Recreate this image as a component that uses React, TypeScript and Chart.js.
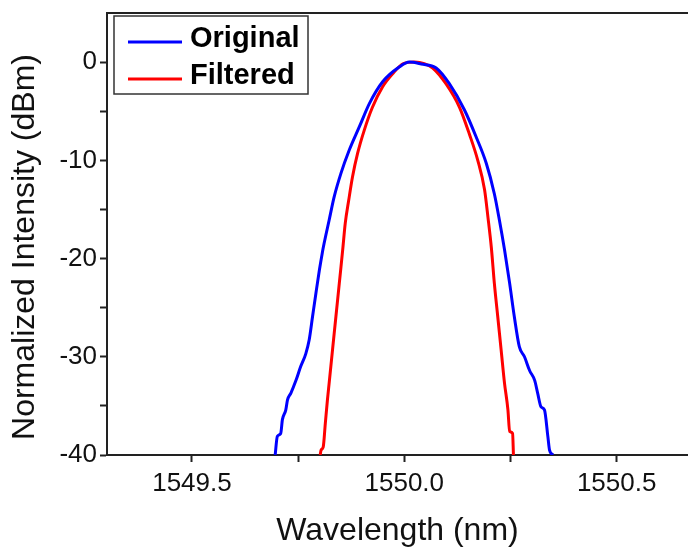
import React, { useEffect, useRef } from 'react';
import { Chart, registerables } from 'chart.js';

Chart.register(...registerables);

const seriesLabels = ['Original', 'Filtered'];
const seriesColors = ['#0000FF', '#FF0000'];

const originalX = [1549.696, 1549.701, 1549.709, 1549.713, 1549.721, 1549.725, 1549.733, 1549.745, 1549.756, 1549.768, 1549.776, 1549.784, 1549.792, 1549.800, 1549.807, 1549.811, 1549.823, 1549.835, 1549.851, 1549.870, 1549.894, 1549.918, 1549.949, 1549.988, 1550.012, 1550.040, 1550.075, 1550.106, 1550.142, 1550.169, 1550.193, 1550.212, 1550.224, 1550.236, 1550.248, 1550.259, 1550.271, 1550.283, 1550.295, 1550.307, 1550.314, 1550.322, 1550.330, 1550.338, 1550.342, 1550.350];
const originalY = [-40, -38.1, -37.8, -36.4, -35.4, -34.4, -33.7, -32.4, -31.0, -29.7, -28.3, -25.9, -23.5, -21.2, -19.4, -18.5, -16.1, -13.7, -11.3, -9.0, -6.6, -4.2, -2.0, -0.5, 0, -0.2, -0.6, -2.2, -4.9, -7.6, -10.3, -13.4, -16.1, -19.1, -22.5, -25.9, -29.0, -30.0, -31.4, -32.4, -33.7, -35.1, -35.4, -38.1, -39.5, -40];

const filteredX = [1549.802, 1549.804, 1549.809, 1549.814, 1549.819, 1549.823, 1549.831, 1549.839, 1549.847, 1549.855, 1549.861, 1549.869, 1549.878, 1549.890, 1549.906, 1549.925, 1549.949, 1549.972, 1549.998, 1550.024, 1550.047, 1550.067, 1550.098, 1550.130, 1550.153, 1550.173, 1550.189, 1550.197, 1550.205, 1550.212, 1550.220, 1550.228, 1550.236, 1550.244, 1550.248, 1550.255, 1550.257];
const filteredY = [-40, -39.5, -39.2, -36.8, -34.4, -32.7, -29.3, -25.9, -22.5, -19.1, -16.4, -14.1, -11.7, -9.3, -6.9, -4.6, -2.5, -1.2, -0.15, 0, -0.15, -0.6, -2.2, -4.6, -7.3, -10.0, -13.0, -15.8, -18.9, -22.5, -25.9, -29.3, -32.7, -35.4, -37.6, -37.8, -40];

const xTickValues = [1549.5, 1549.75, 1550.0, 1550.25, 1550.5];
const xTickLabels = ['1549.5', '', '1550.0', '', '1550.5'];
const yTickValues = [-40, -35, -30, -25, -20, -15, -10, -5, 0];
const yTickLabels = ['-40', '', '-30', '', '-20', '', '-10', '', '0'];

const xTitle = 'Wavelength (nm)';
const yTitle = 'Normalized Intensity (dBm)';

const FONT = "'Liberation Sans', Arial, sans-serif";
const AXIS = '#222222';

const decorPlugin = {
  id: 'decor',
  afterDraw(chart: any) {
    const { ctx, chartArea } = chart;
    ctx.save();
    // top frame line
    ctx.strokeStyle = AXIS;
    ctx.lineWidth = 2;
    ctx.beginPath();
    ctx.moveTo(chartArea.left - 1, chartArea.top);
    ctx.lineTo(chartArea.right, chartArea.top);
    ctx.stroke();

    // y title
    ctx.save();
    ctx.translate(25, 247);
    ctx.rotate(-Math.PI / 2);
    ctx.font = `32px ${FONT}`;
    ctx.fillStyle = '#111';
    ctx.textAlign = 'center';
    ctx.textBaseline = 'middle';
    ctx.fillText(yTitle, 0, 0);
    ctx.restore();

    // legend
    const bx = chartArea.left + 7;
    const by = chartArea.top + 3;
    const bw = 194;
    const bh = 78;
    ctx.fillStyle = '#fff';
    ctx.fillRect(bx, by, bw, bh);
    ctx.strokeStyle = '#333';
    ctx.lineWidth = 1.5;
    ctx.strokeRect(bx, by, bw, bh);
    const rows = [26, 63];
    chart.data.datasets.forEach((ds: any, i: number) => {
      const y = by + rows[i];
      ctx.strokeStyle = ds.borderColor;
      ctx.lineWidth = 3;
      ctx.beginPath();
      ctx.moveTo(bx + 14, y);
      ctx.lineTo(bx + 68, y);
      ctx.stroke();
      ctx.fillStyle = '#000';
      ctx.font = `bold 29px ${FONT}`;
      ctx.textAlign = 'left';
      ctx.textBaseline = 'middle';
      ctx.fillText(ds.label, bx + 76, y - 3);
    });
    ctx.restore();
  },
};

export default function App() {
  const ref = useRef<HTMLCanvasElement | null>(null);

  useEffect(() => {
    if (!ref.current) return;
    const mk = (xs: number[], ys: number[]) => xs.map((x, i) => ({ x, y: ys[i] }));
    const chart = new Chart(ref.current, {
      type: 'line',
      data: {
        datasets: [
          {
            label: seriesLabels[0],
            data: mk(originalX, originalY),
            borderColor: seriesColors[0],
            backgroundColor: seriesColors[0],
            borderWidth: 3,
            pointRadius: 0,
            cubicInterpolationMode: 'monotone',
            fill: false,
          },
          {
            label: seriesLabels[1],
            data: mk(filteredX, filteredY),
            borderColor: seriesColors[1],
            backgroundColor: seriesColors[1],
            borderWidth: 3,
            pointRadius: 0,
            cubicInterpolationMode: 'monotone',
            fill: false,
          },
        ],
      },
      options: {
        animation: false,
        responsive: false,
        devicePixelRatio: 1,
        layout: { padding: { top: 13, left: 0, right: 0, bottom: 0 } },
        plugins: {
          legend: { display: false },
          tooltip: { enabled: false },
        },
        scales: {
          x: {
            type: 'linear',
            min: 1549.3,
            max: 1550.668,
            afterBuildTicks: (scale: any) => {
              scale.ticks = xTickValues.map((v) => ({ value: v }));
            },
            afterFit: (scale: any) => {
              scale.height = 92;
              scale.paddingLeft = 0;
              scale.paddingRight = 0;
              scale.paddingTop = 0;
              scale.paddingBottom = 0;
            },
            ticks: {
              autoSkip: false,
              maxRotation: 0,
              padding: 6,
              color: '#111',
              font: { family: FONT, size: 26 },
              callback: (value: any) => {
                const idx = xTickValues.findIndex((v) => Math.abs(v - Number(value)) < 1e-6);
                return idx >= 0 ? xTickLabels[idx] : '';
              },
            },
            grid: {
              drawOnChartArea: false,
              drawTicks: true,
              tickLength: 7,
              tickColor: AXIS,
              tickWidth: 2,
            },
            border: { display: true, color: AXIS, width: 2 },
            title: {
              display: true,
              text: xTitle,
              color: '#111',
              font: { family: FONT, size: 32, lineHeight: 1 },
              padding: { top: 0, bottom: 0 },
            },
          },
          y: {
            type: 'linear',
            min: -40,
            max: 5,
            afterBuildTicks: (scale: any) => {
              scale.ticks = yTickValues.map((v) => ({ value: v }));
            },
            afterFit: (scale: any) => {
              scale.width = 107;
              scale.paddingLeft = 0;
              scale.paddingRight = 0;
              scale.paddingTop = 0;
              scale.paddingBottom = 0;
            },
            ticks: {
              autoSkip: false,
              padding: 3,
              color: '#111',
              font: { family: FONT, size: 26 },
              callback: (value: any) => {
                const idx = yTickValues.findIndex((v) => Math.abs(v - Number(value)) < 1e-6);
                return idx >= 0 ? yTickLabels[idx] : '';
              },
            },
            grid: {
              drawOnChartArea: false,
              drawTicks: true,
              tickLength: 7,
              tickColor: AXIS,
              tickWidth: 2,
            },
            border: { display: true, color: AXIS, width: 2 },
          },
        },
      } as any,
      plugins: [decorPlugin],
    });
    return () => chart.destroy();
  }, []);

  return (
    <div style={{ position: 'fixed', left: 0, top: 0, width: 688, height: 547, background: '#fff' }}>
      <canvas ref={ref} width={688} height={547} style={{ width: 688, height: 547, display: 'block' }} />
    </div>
  );
}
